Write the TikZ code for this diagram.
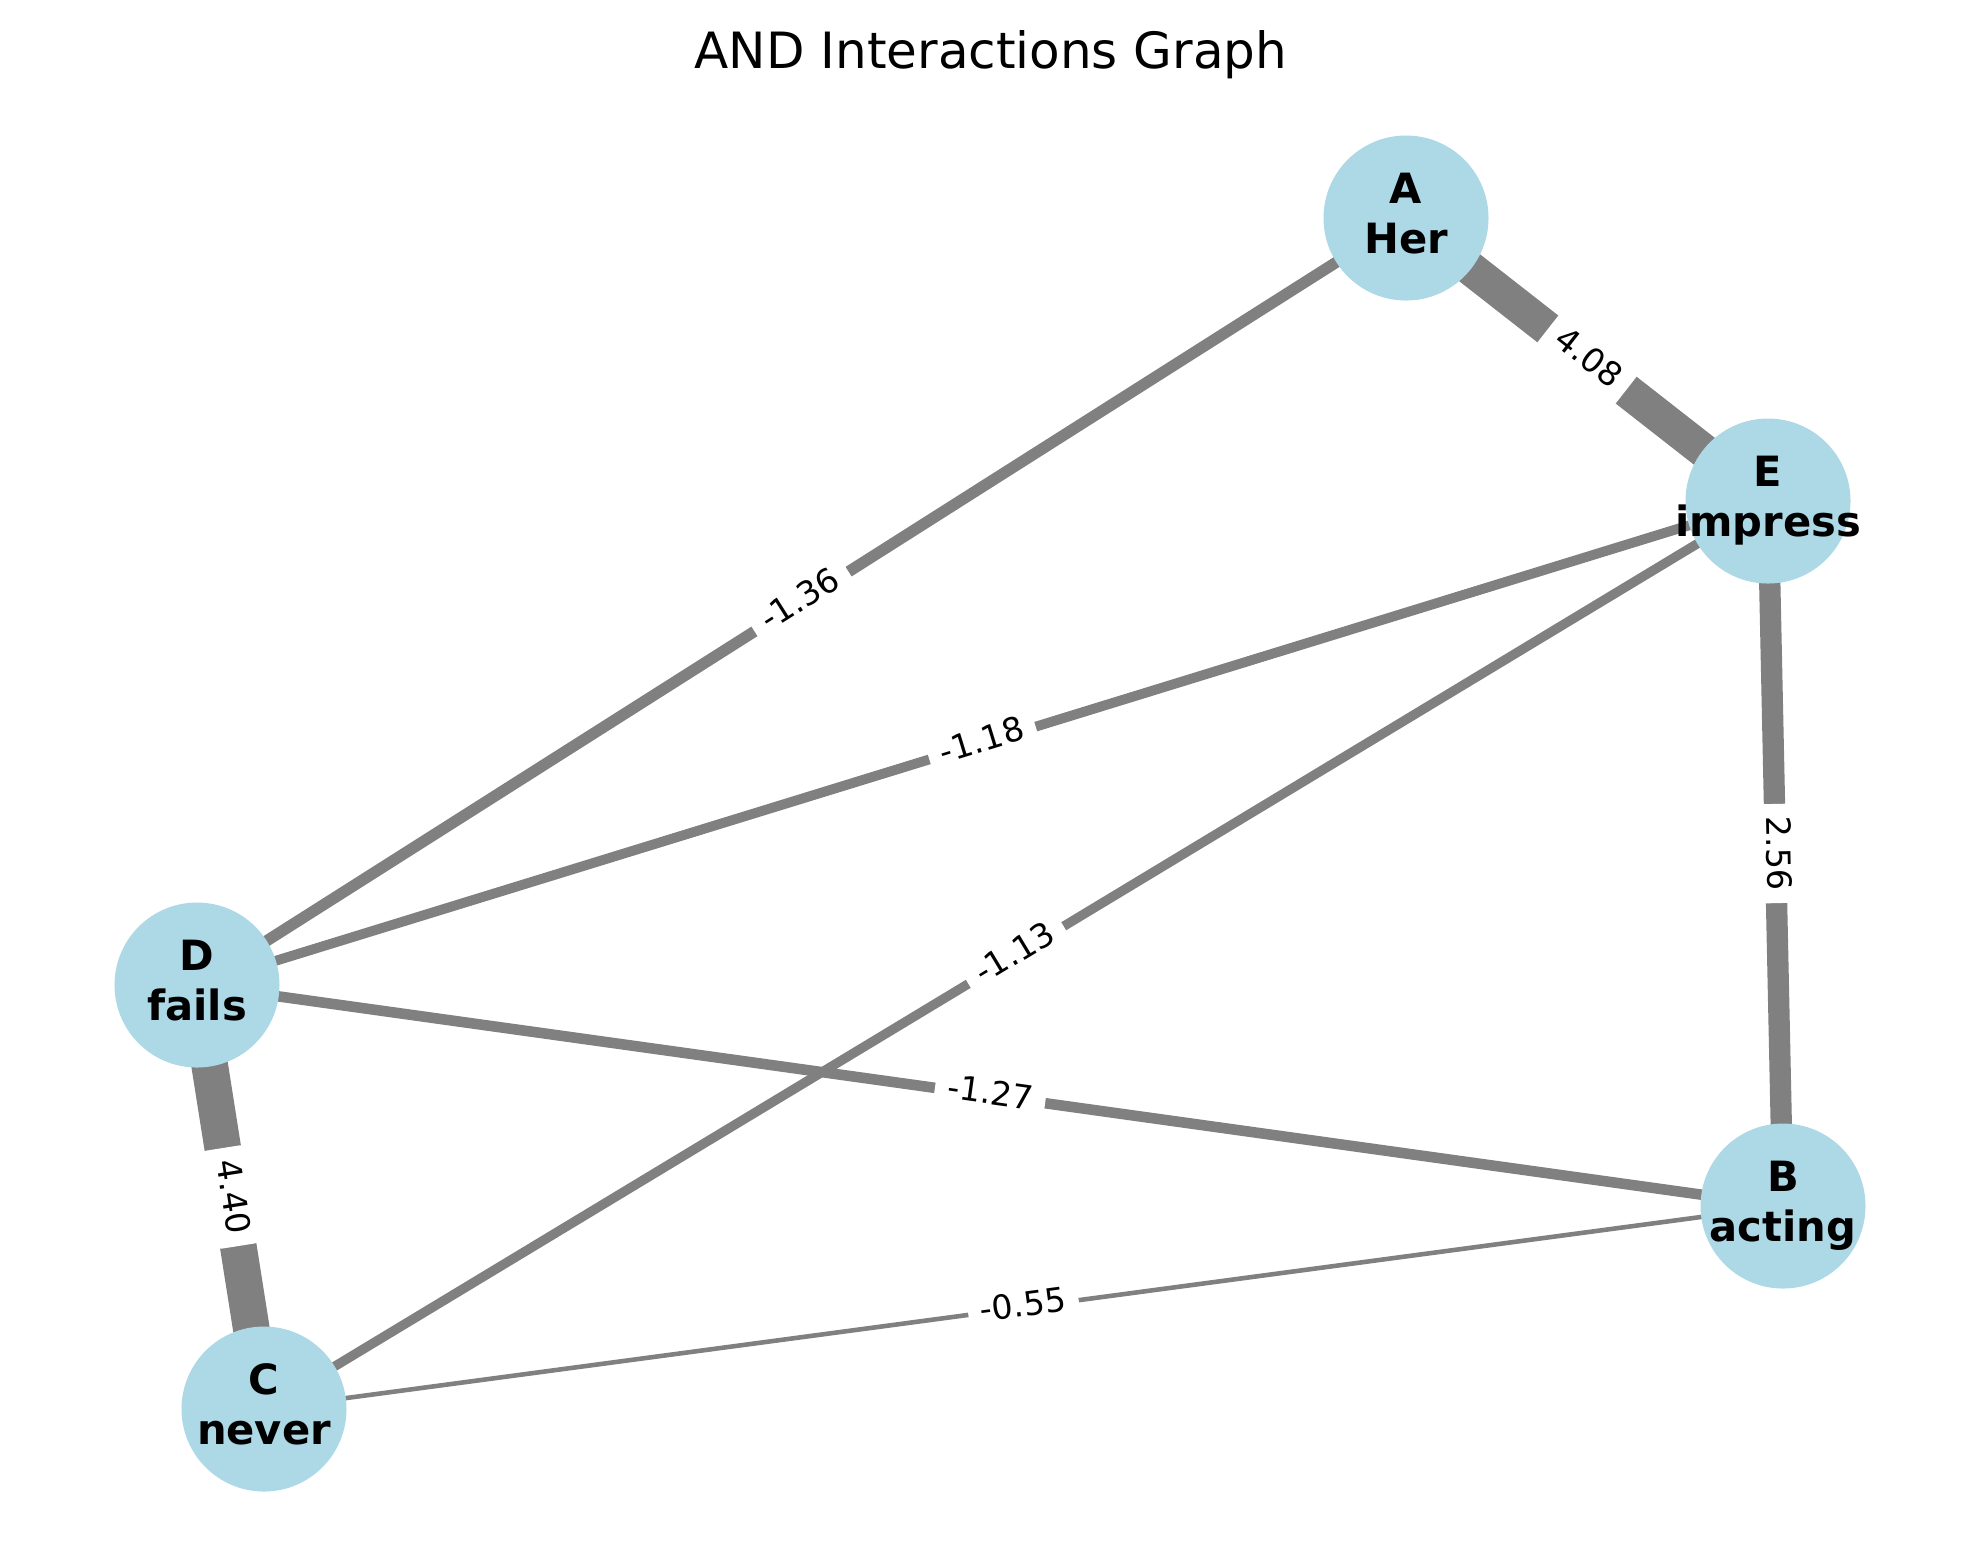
\documentclass[tikz,border=0pt]{standalone}
\usepackage{fontspec}
\setmainfont{DejaVu Sans}
\usetikzlibrary{backgrounds}

\definecolor{nodeblue}{HTML}{ADD8E6}
\definecolor{edgegray}{HTML}{808080}

% two-line node text, with the line heights of the plotting font;
% the lines have no width so that the circle keeps its size
\newcommand{\wordlabel}[2]{\makebox[0pt]{\rule{0pt}{7.6bp}#1}\\\makebox[0pt]{#2\rule[-2.36bp]{0pt}{2.36bp}}}

\tikzset{
  word/.style={circle, fill=nodeblue, minimum size=39.6bp, inner sep=0pt,
    align=center, font=\fontsize{10bp}{12bp}\selectfont\bfseries},
  link/.style={draw=edgegray, line width=#1},
  weight/.style={midway, sloped, fill=white, rounded corners=2.4bp,
    inner xsep=3bp, inner ysep=2.4bp, text height=6.08bp, text depth=1.92bp,
    font=\fontsize{8bp}{9.6bp}\selectfont}
}

\begin{document}
\begin{tikzpicture}[x=0.24bp, y=-0.24bp]
    \useasboundingbox (0,0) rectangle (1980,1563);

    % Title
    \node[anchor=base, font=\fontsize{12bp}{14.4bp}\selectfont] (title) at (991,68) {AND Interactions Graph};

    % Words
    \node[word] (A) at (1406,218) {\wordlabel{A}{Her}};
    \node[word] (E) at (1768,501) {\wordlabel{E}{impress}};
    \node[word] (D) at (197,985) {\wordlabel{D}{fails}};
    \node[word] (B) at (1783,1206) {\wordlabel{B}{acting}};
    \node[word] (C) at (264,1409) {\wordlabel{C}{never}};

    % Interactions, width from the weight
    \begin{scope}[on background layer]
        \draw[link=8.16bp] (A.center) -- node[weight] {4.08} (E.center);
        \draw[link=2.72bp] (A.center) -- node[weight] {-1.36} (D.center);
        \draw[link=2.36bp] (E.center) -- node[weight] {-1.18} (D.center);
        \draw[link=2.26bp] (E.center) -- node[weight] {-1.13} (C.center);
        \draw[link=5.12bp] (E.center) -- node[weight] {2.56} (B.center);
        \draw[link=2.54bp] (D.center) -- node[weight] {-1.27} (B.center);
        \draw[link=8.8bp] (D.center) -- node[weight] {4.40} (C.center);
        \draw[link=1.1bp] (C.center) -- node[weight] {-0.55} (B.center);
    \end{scope}
\end{tikzpicture}
\end{document}
